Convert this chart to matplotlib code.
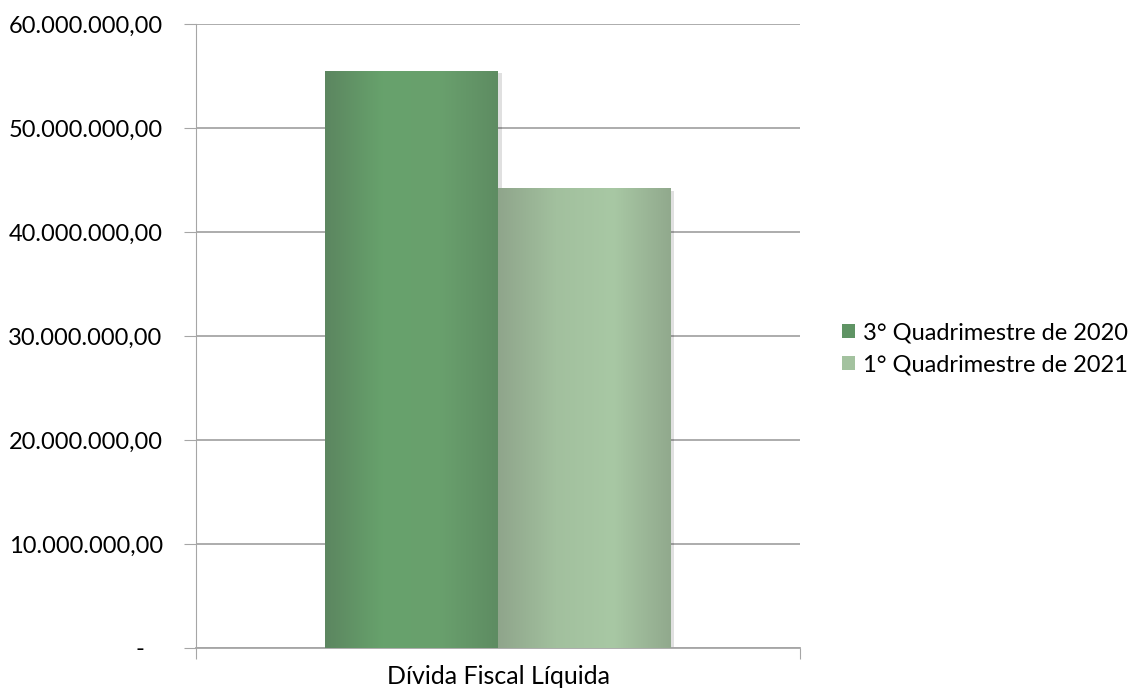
import numpy as np
import matplotlib.pyplot as plt
from matplotlib.colors import LinearSegmentedColormap
from matplotlib.patches import Patch

plt.rcParams['font.family'] = ['Lato', 'DejaVu Sans']

# dados
categoria = 'Dívida Fiscal Líquida'
series = ['3° Quadrimestre de 2020', '1° Quadrimestre de 2021']
valores = [55.5e6, 44.2e6]
yticks = [0, 10e6, 20e6, 30e6, 40e6, 50e6, 60e6]

# gradientes horizontais de cada barra (borda, centro, borda)
gradientes = [
    ['#5c8660', '#67a26c', '#69a06d', '#5e8c62'],
    ['#8fa58b', '#a2c09e', '#a8c8a4', '#91a98d'],
]
cores_legenda = ['#5f9464', '#a3c29f']


def fmt_br(v):
    if v == 0:
        return '-   '
    s = f'{v:,.2f}'
    return s.replace(',', 'X').replace('.', ',').replace('X', '.')


fig = plt.figure(figsize=(11.45, 6.92), dpi=100)
ax = fig.add_axes([196 / 1145, 1 - 648 / 692, 604 / 1145, 624 / 692])

largura = 0.286
posicoes = [-largura / 2, largura / 2]
for x, v, grad in zip(posicoes, valores, gradientes):
    # sombra leve
    ax.bar(x + 0.006, v, width=largura, bottom=-0.25e6, color='#000000', alpha=0.12, zorder=2)
    barra = ax.bar(x, v, width=largura, color='none', zorder=3)[0]
    cmap = LinearSegmentedColormap.from_list('g', grad)
    img = ax.imshow(np.linspace(0, 1, 256).reshape(1, -1), cmap=cmap, aspect='auto',
                    extent=[x - largura / 2, x + largura / 2, 0, v], zorder=3)
    img.set_clip_path(barra)

ax.set_xlim(-0.5, 0.5)
ax.set_ylim(0, 60e6)
ax.set_yticks(yticks)
ax.set_yticklabels([fmt_br(t) for t in yticks], fontsize=17)
ax.yaxis.grid(True, color='#a6a6a6', linewidth=1.3, zorder=0)
ax.set_axisbelow(True)

ax.set_xticks([-0.5, 0.5])
ax.set_xticklabels([])
ax.text(0, -0.027, categoria, transform=ax.get_xaxis_transform(), ha='center', va='top', fontsize=18)

for s in ['top', 'right']:
    ax.spines[s].set_visible(False)
ax.spines['left'].set_color('#a6a6a6')
ax.spines['bottom'].set_color('#a6a6a6')
ax.spines['bottom'].set_linewidth(1.3)
ax.tick_params(axis='y', length=9, color='#a6a6a6', pad=15)
ax.tick_params(axis='x', length=8, color='#a6a6a6')

handles = [Patch(facecolor=c, edgecolor='none') for c in cores_legenda]
fig.legend(handles, series, loc='center left', bbox_to_anchor=(842 / 1145, 1 - 349 / 692),
           frameon=False, fontsize=17, handlelength=0.55, handleheight=0.55,
           handletextpad=0.35, labelspacing=0.45, borderaxespad=0, borderpad=0)

fig.savefig('out.png', dpi=100)
